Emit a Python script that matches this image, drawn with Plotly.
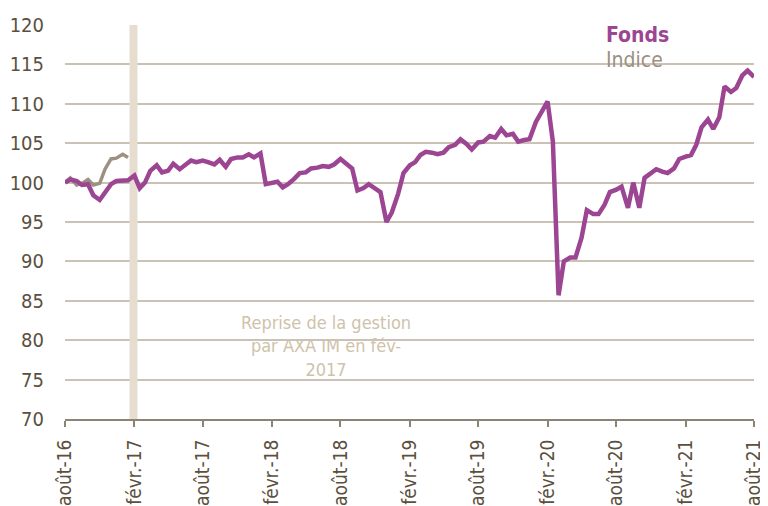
import pandas as pd
import plotly.graph_objects as go

# Semi-monthly observation dates (1st and 15th), août-16 .. août-21
dates = pd.date_range("2016-08-01", "2021-08-01", freq="SMS")

fonds = [
    100.0, 100.4, 100.2, 99.7, 99.8, 98.4, 97.8, 98.7, 99.8, 100.2,
    100.3, 100.3, 100.9, 99.3, 100.0, 101.5, 102.2, 101.3, 101.5, 102.4,
    101.7, 102.2, 102.8, 102.6, 102.8, 102.6, 102.3, 102.9, 102.0, 103.0,
    103.2, 103.2, 103.6, 103.2, 103.7, 99.8, 100.0, 100.1, 99.4, 99.8,
    100.5, 101.2, 101.3, 101.8, 101.9, 102.1, 102.0, 102.3, 103.0, 102.4,
    101.8, 99.0, 99.3, 99.8, 99.3, 98.8, 95.0, 96.2, 98.6, 101.2,
    102.2, 102.6, 103.5, 103.9, 103.8, 103.6, 103.8, 104.5, 104.8, 105.5,
    104.9, 104.2, 105.1, 105.2, 105.9, 105.7, 106.8, 106.0, 106.2, 105.2,
    105.4, 105.5, 107.7, 108.9, 110.3, 105.2, 85.7, 90.0, 90.5, 90.5,
    93.0, 96.5, 96.0, 96.0, 97.2, 98.8, 99.1, 99.5, 96.8, 100.0,
    96.8, 100.6, 101.3, 101.7, 101.4, 101.2, 101.8, 103.0, 103.3, 103.5,
    104.8, 107.0, 108.0, 106.8, 108.3, 112.2, 111.5, 112.0, 113.6, 114.2,
    113.4,
]

indice = [
    100.0, 100.6, 99.7, 99.9, 100.4, 99.7, 99.9, 101.7, 103.0, 103.1,
    103.6, 103.2,
] + [None] * (len(dates) - 12)

tick_dates = ["2016-08-01", "2017-02-01", "2017-08-01", "2018-02-01", "2018-08-01",
              "2019-02-01", "2019-08-01", "2020-02-01", "2020-08-01", "2021-02-01",
              "2021-08-01"]
tick_labels = ["août-16", "févr.-17", "août-17", "févr.-18", "août-18", "févr.-19",
               "août-19", "févr.-20", "août-20", "févr.-21", "août-21"]
y_ticks = [70, 75, 80, 85, 90, 95, 100, 105, 110, 115, 120]

PURPLE = "#9c4592"
GREY = "#9d9080"
TXT = "#5b4f3e"
GRID = "#cbc2b6"
FONT = "DejaVu Sans Condensed, Liberation Sans, sans-serif"

fig = go.Figure()
fig.add_trace(go.Scatter(x=dates, y=indice, mode="lines", name="Indice",
                         line=dict(color=GREY, width=3.5), connectgaps=False))
fig.add_trace(go.Scatter(x=dates, y=fonds, mode="lines", name="Fonds",
                         line=dict(color=PURPLE, width=4.5)))

# vertical marker at the change of management (fév-2017)
fig.add_shape(type="rect", xref="x", yref="y", x0="2017-01-19", x1="2017-02-09",
              y0=70, y1=120, fillcolor="#e6ddd0", line=dict(width=0), layer="between")
# white boxes behind texts
fig.add_shape(type="rect", xref="paper", yref="paper", x0=0.220, x1=0.538,
              y0=0.06, y1=0.302, fillcolor="white", line=dict(width=0), layer="between")
fig.add_shape(type="rect", xref="paper", yref="paper", x0=0.752, x1=0.911,
              y0=0.88, y1=1.03, fillcolor="white", line=dict(width=0), layer="between")

fig.add_annotation(xref="paper", yref="paper", x=0.379, y=0.185,
                   xanchor="center", yanchor="middle",
                   text="Reprise de la gestion<br>par AXA IM en fév-<br>2017",
                   showarrow=False, align="center",
                   font=dict(family=FONT, size=18, color="#cfc2ab"))
fig.add_annotation(xref="paper", yref="paper", x=0.782, y=0.975, xanchor="left",
                   yanchor="middle", text="<b>Fonds</b>", showarrow=False,
                   font=dict(family=FONT, size=21, color=PURPLE))
fig.add_annotation(xref="paper", yref="paper", x=0.782, y=0.912, xanchor="left",
                   yanchor="middle", text="Indice", showarrow=False,
                   font=dict(family=FONT, size=21, color=GREY))

# the page body adds an 8px offset, so the figure is 8px smaller on each axis
fig.update_layout(
    width=760, height=498,
    margin=dict(l=57, r=14, t=17, b=87),
    paper_bgcolor="white", plot_bgcolor="white",
    showlegend=False,
    font=dict(family=FONT, size=19, color=TXT),
)
fig.update_xaxes(
    type="date", range=["2016-08-01", "2021-08-01"], automargin=False,
    tickvals=tick_dates, ticktext=tick_labels, tickangle=-90,
    showgrid=False, showline=True, linecolor="#8d8373", linewidth=2,
    ticks="outside", ticklen=6, tickwidth=2, tickcolor="#8d8373",
    ticklabelstandoff=5, zeroline=False,
    tickfont=dict(family=FONT, size=19, color=TXT),
)
fig.update_yaxes(
    range=[70, 120], tickvals=y_ticks, showgrid=True, gridcolor=GRID, gridwidth=2,
    zeroline=False, showline=False, ticks="", ticklabelstandoff=20, automargin=False,
    tickfont=dict(family=FONT, size=20, color=TXT),
)

fig.write_html("out.html")
